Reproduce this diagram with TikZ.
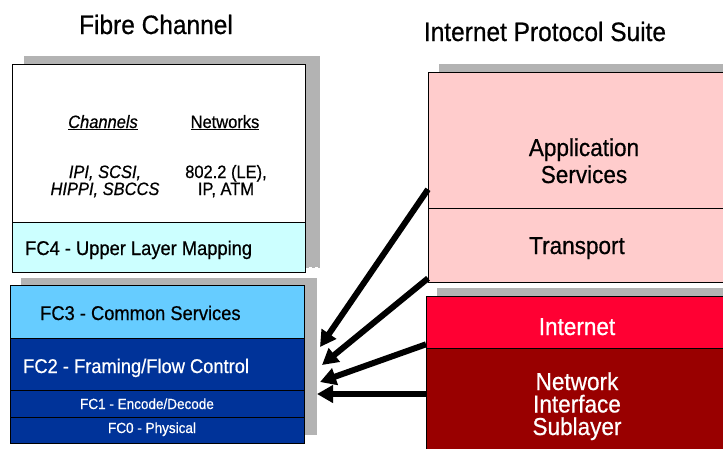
\documentclass[tikz,border=0pt]{standalone}
\usepackage{fontspec}
\setmainfont{Liberation Sans}[FakeStretch=0.92,FakeBold=0.6]
\usetikzlibrary{arrows.meta,positioning,calc}

\definecolor{shgray}{HTML}{B3B3B3}
\definecolor{fcCyan}{HTML}{CCFFFF}
\definecolor{fcSky}{HTML}{66CCFF}
\definecolor{fcNavy}{HTML}{003399}
\definecolor{ipPink}{HTML}{FFCCCC}
\definecolor{ipRed}{HTML}{FF0033}
\definecolor{ipDark}{HTML}{990000}

\begin{document}
\begin{tikzpicture}[x=1pt,y=-1pt,
  >={Triangle[length=16pt,width=17pt]},
  lay/.style={draw=black,line width=1.3pt,anchor=north west,inner sep=0pt},
  txt/.style={inner sep=0pt,anchor=base,align=center},
  ttl/.style={txt,font=\fontsize{26.6}{28}\selectfont},
  fcl/.style={txt,anchor=base west,font=\fontsize{19.9}{22}\selectfont},
  fcs/.style={txt,white,font=\fontsize{14.7}{16}\selectfont},
  chl/.style={txt,font=\fontsize{17.9}{17}\selectfont},
  ipl/.style={txt,font=\fontsize{24.5}{27}\selectfont},
  ar/.style={->,line width=6pt,black},
]
\clip (0,0) rectangle (723,448);
\fill[white] (0,0) rectangle (723,448);

% titles
\node[ttl] (fctitle) at (156,34) {Fibre Channel};
\node[ttl] (iptitle) at (545,41) {Internet Protocol Suite};

% shadows
\fill[shgray] (24,56) rectangle (320,267);
\draw[shgray,line width=1pt,dashed] (306,267) -- (320,267);
\fill[shgray] (21,278) rectangle (317,435);
\fill[shgray] (439,64) rectangle (760,280);
\fill[shgray] (437,288) rectangle (760,460);

% fibre channel stack
\node[lay,fill=white,minimum width=293pt,minimum height=158pt] (chan) at (12,64) {};
\node[lay,fill=fcCyan,minimum width=293pt,minimum height=50pt] (fc4) at (12,222) {};
\node[lay,fill=fcSky,minimum width=294pt,minimum height=53pt] (fc3) at (10,285) {};
\node[lay,fill=fcNavy,minimum width=294pt,minimum height=52pt] (fc2) at (10,338) {};
\node[lay,fill=fcNavy,minimum width=294pt,minimum height=27pt] (fc1) at (10,390) {};
\node[lay,fill=fcNavy,minimum width=294pt,minimum height=26pt] (fc0) at (10,417) {};

\node[chl] (chanhd) at (103,128) {\underline{\textit{Channels}}};
\node[chl] (nethd) at (225,128) {\underline{Networks}};
\node[chl] (chanls) at (105,195) {\textit{IPI, SCSI,}\\\textit{HIPPI, SBCCS}};
\node[chl] (netls) at (226,195) {802.2 (LE),\\IP, ATM};

\node[fcl] (fc4t) at (25,255) {FC4 - Upper Layer Mapping};
\node[fcl] (fc3t) at (40,320) {FC3 - Common Services};
\node[fcl,white] (fc2t) at (23,373) {FC2 - Framing/Flow Control};
\node[fcs] (fc1t) at (147,409) {FC1 - Encode/Decode};
\node[fcs] (fc0t) at (152,433) {FC0 - Physical};

% internet protocol suite stack
\node[lay,fill=ipPink,minimum width=320pt,minimum height=136pt] (app) at (428,72) {};
\node[lay,fill=ipPink,minimum width=320pt,minimum height=74pt] (trn) at (428,208) {};
\node[lay,fill=ipRed,minimum width=322pt,minimum height=52pt] (inet) at (426,296) {};
\node[lay,fill=ipDark,minimum width=322pt,minimum height=120pt] (nis) at (426,348) {};

\node[ipl] (appt) at (584,183) {Application\\Services};
\node[ipl] (trnt) at (577,254) {Transport};
\node[ipl,white] (inett) at (577,335) {Internet};
\node[ipl,white,font=\fontsize{24.5}{22.5}\selectfont] (nist) at (577,435) {Network\\Interface\\Sublayer};

% mapping arrows
\coordinate (tip1) at (320,347);
\coordinate (tip2) at (322,365);
\coordinate (tip3) at (320,382);
\coordinate (tip4) at (317,394);
\draw[ar] ([yshift=20pt]app.south west) -- (tip1);
\draw[ar] ([yshift=5pt]trn.south west) -- (tip2);
\draw[ar] ([yshift=5pt]inet.south west) -- (tip3);
\draw[ar] ([yshift=-46pt]nis.north west) -- (tip4);
\end{tikzpicture}
\end{document}
